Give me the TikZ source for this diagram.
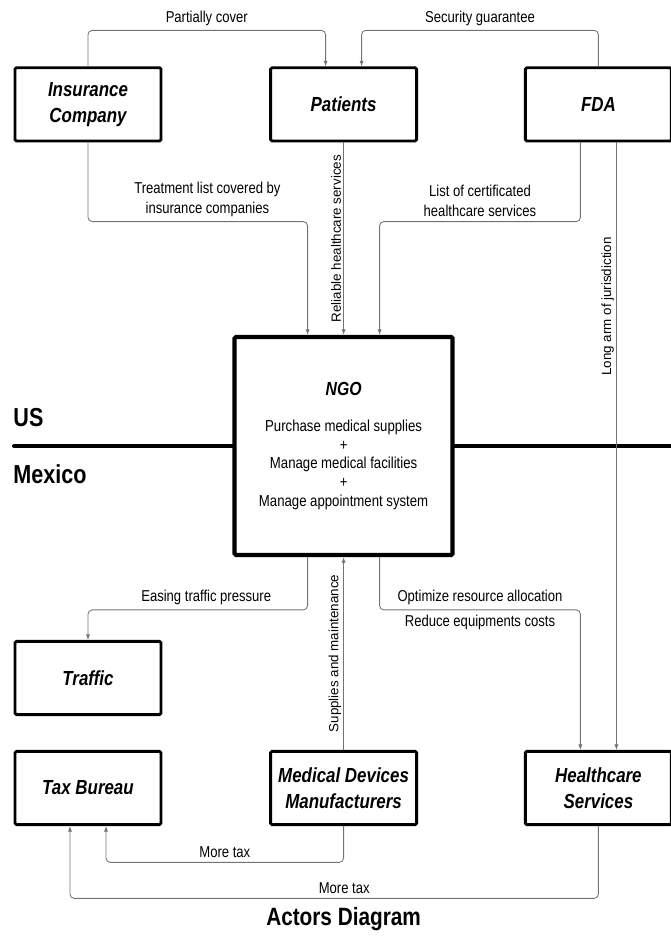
\documentclass[tikz,border=0pt]{standalone}
\usepackage{fontspec}
\setmainfont[FakeStretch=0.83]{Liberation Sans}
\newfontfamily\rotfont{Liberation Sans}
\usetikzlibrary{arrows.meta, positioning}

\begin{document}
\begin{tikzpicture}[
        actor/.style={draw, line width=2pt, rounded corners=1pt, minimum width=3.65cm, minimum height=1.83cm,
                      align=center, inner sep=0pt, font=\fontsize{14.5}{18.3}\selectfont\bfseries\itshape},
        hub/.style={draw, line width=3pt, rounded corners=1pt, minimum width=5.45cm, minimum height=5.45cm,
                    align=center, font=\fontsize{11.3}{13.3}\selectfont},
        conn/.style={-{Latex[length=4pt, width=3pt]}, black!55, line width=0.6pt, rounded corners=3pt},
        lbl/.style={font=\fontsize{11.2}{14.2}\selectfont, align=center, text=black},
        vlbl/.style={font=\rotfont\fontsize{9.5}{11}\selectfont, rotate=90, anchor=south, inner sep=1.5pt, text=black},
        region/.style={font=\fontsize{18.5}{20}\selectfont\bfseries, inner sep=0pt},
        border/.style={line width=2.8pt, line cap=round}
    ]
        \useasboundingbox (0,0) rectangle (16.775, 23.4);

        \node[actor] (insurance) at (2.2, 20.79) {Insurance\\Company};
        \node[actor] (patients) at (8.59, 20.79) {Patients};
        \node[actor] (fda) at (14.96, 20.79) {FDA};
        \node[hub] (ngo) at (8.59, 12.25) {{\fontsize{13.5}{16}\selectfont\bfseries\itshape NGO}\\[12pt]
            Purchase medical supplies\\+\\Manage medical facilities\\+\\Manage appointment system};
        \node[actor] (traffic) at (2.2, 6.45) {Traffic};
        \node[actor] (taxbureau) at (2.2, 3.7) {Tax Bureau};
        \node[actor] (medical) at (8.59, 3.7) {Medical Devices\\Manufacturers};
        \node[actor] (healthcare) at (14.96, 3.7) {Healthcare\\Services};

        \node[region, anchor=west] (us) at (0.33, 12.95) {US};
        \node[region, anchor=west] (mexico) at (0.33, 11.55) {Mexico};
        \coordinate (usleft) at (0.35, 12.25);
        \coordinate (usright) at (17.0, 12.25);
        \draw[border] (usleft) -- (ngo.west);
        \draw[border] (ngo.east) -- (usright);

        \draw[conn] (insurance.north) -- ++(0,0.9) -| node[lbl, pos=0.25, above]{Partially cover} ([xshift=-0.45cm]patients.north);
        \draw[conn] (fda.north) -- ++(0,0.9) -| node[lbl, pos=0.25, above]{Security guarantee} ([xshift=0.45cm]patients.north);
        \draw[conn] (insurance.south) -- ++(0,-1.98) -| node[lbl, pos=0.25, above, xshift=0.24cm]{Treatment list covered by\\insurance companies} ([xshift=-0.9cm]ngo.north);
        \draw[conn] (patients.south) -- node[vlbl, midway]{Reliable healthcare services} (ngo.north);
        \draw[conn] ([xshift=-0.45cm]fda.south) -- ++(0,-1.98) -| node[lbl, pos=0.25, above]{List of certificated\\healthcare services} ([xshift=0.9cm]ngo.north);
        \draw[conn] ([xshift=0.45cm]fda.south) -- node[vlbl, pos=0.27]{Long arm of jurisdiction} ([xshift=0.45cm]healthcare.north);

        \draw[conn] ([xshift=-0.9cm]ngo.south) -- ++(0,-1.32) -| node[lbl, pos=0.25, above, xshift=0.21cm]{Easing traffic pressure} (traffic.north);
        \draw[conn] ([xshift=0.9cm]ngo.south) -- ++(0,-1.32) -| node[lbl, pos=0.25, above]{Optimize resource allocation}
            node[lbl, pos=0.25, below]{Reduce equipments costs} ([xshift=-0.45cm]healthcare.north);
        \draw[conn] (medical.north) -- node[vlbl, midway]{Supplies and maintenance} (ngo.south);
        \draw[conn] (medical.south) -- ++(0,-0.91) -| node[lbl, pos=0.25, above]{More tax} ([xshift=0.45cm]taxbureau.south);
        \draw[conn] (healthcare.south) -- ++(0,-1.81) -| node[lbl, pos=0.25, above, xshift=0.25cm]{More tax} ([xshift=-0.45cm]taxbureau.south);

        \node[font=\fontsize{17.8}{20}\selectfont\bfseries] (title) at (8.59, 0.42) {Actors Diagram};
    \end{tikzpicture}
\end{document}
